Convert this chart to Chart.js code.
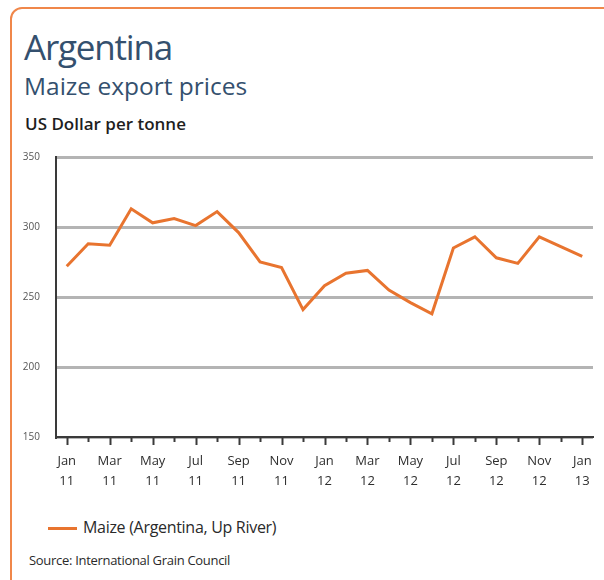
<!DOCTYPE html>
<html>
<head>
<meta charset="utf-8">
<script src="https://cdn.jsdelivr.net/npm/chart.js@4"></script>
<style>
  body { margin: 0; background: #fff; width: 604px; height: 580px; overflow: hidden; position: relative; font-family: "Open Sans", sans-serif; }
  #frame { position: absolute; left: 10px; top: 7px; width: 640px; height: 620px; border: 2.5px solid #f0874a; border-radius: 12px; box-sizing: border-box; }
  .txt { position: absolute; white-space: nowrap; }
  #title { left: 24px; top: 23px; font-size: 35px; letter-spacing: -1.2px; color: #34506e; }
  #subtitle { left: 24px; top: 69px; font-size: 24.5px; letter-spacing: 0px; color: #34506e; }
  #unit { left: 25px; top: 112px; font-size: 17px; font-weight: 600; letter-spacing: 0px; color: #1e1e1e; }
  #legend { left: 48px; top: 516px; font-size: 16px; letter-spacing: -0.3px; color: #2a2a2a; }
  #legend span.ln { display: inline-block; width: 29px; height: 3px; background: #e8742f; vertical-align: middle; margin-right: 6px; position: relative; top: 0px; }
  #source { left: 29px; top: 551px; font-size: 13px; letter-spacing: -0.3px; color: #2a2a2a; }
  #wrap { position: absolute; left: 0; top: 140px; width: 604px; height: 360px; }
</style>
</head>
<body>
<div id="frame"></div>
<div class="txt" id="title">Argentina</div>
<div class="txt" id="subtitle">Maize export prices</div>
<div class="txt" id="unit">US Dollar per tonne</div>
<div id="wrap"><canvas id="chart"></canvas></div>
<div class="txt" id="legend"><span class="ln"></span>Maize (Argentina, Up River)</div>
<div class="txt" id="source">Source: International Grain Council</div>
<script>
const months = ['Jan','Feb','Mar','Apr','May','Jun','Jul','Aug','Sep','Oct','Nov','Dec',
                'Jan','Feb','Mar','Apr','May','Jun','Jul','Aug','Sep','Oct','Nov','Dec','Jan']
const years = ['11','11','11','11','11','11','11','11','11','11','11','11',
               '12','12','12','12','12','12','12','12','12','12','12','12','13']
const maize = [272, 288, 287, 313, 303, 306, 301, 311, 296, 275, 271, 241,
               258, 267, 269, 255, 246, 238, 285, 293, 278, 274, 293, 286, 279]
const yTicks = [150, 200, 250, 300, 350]

// small/large tick marks under the x axis
const monthTicks = {
    id: 'monthTicks',
    afterDraw(chart) {
        const x = chart.scales.x
        const ctx = chart.ctx
        ctx.save()
        ctx.strokeStyle = '#3a3a3a'
        ctx.lineWidth = 2
        for (let i = 0; i < months.length; i++) {
            const px = Math.round(x.getPixelForValue(i)) + 0.5
            const len = i % 2 == 0 ? 8 : 5
            ctx.beginPath()
            ctx.moveTo(px, x.top)
            ctx.lineTo(px, x.top + len)
            ctx.stroke()
        }
        ctx.restore()
    }
}

const data = {
    labels: months.map((m, i) => i),
    datasets: [{
        label: 'Maize (Argentina, Up River)',
        data: maize,
        borderColor: '#e8742f',
        borderWidth: 3,
        tension: 0,
        pointRadius: 0,
        fill: false
    }]
}

const options = {
    responsive: true,
    maintainAspectRatio: false,
    animation: false,
    layout: { padding: { top: 17, right: 11, left: 0, bottom: 0 } },
    plugins: { legend: { display: false }, tooltip: { enabled: false } },
    scales: {
        x: {
            type: 'category',
            offset: true,
            afterFit: s => { s.height = 63; s.paddingLeft = 0; s.paddingRight = 0 },
            grid: { drawOnChartArea: false, drawTicks: false },
            border: { color: '#3a3a3a', width: 2 },
            ticks: {
                autoSkip: false,
                maxRotation: 0,
                padding: 15,
                color: '#2e2e2e',
                font: { family: 'Open Sans', size: 13, lineHeight: 1.5 },
                callback: (v, i) => i % 2 == 0 ? [months[i], years[i]] : ''
            }
        },
        y: {
            min: 150,
            max: 350,
            afterFit: s => { s.width = 56; s.paddingTop = 0; s.paddingBottom = 0 },
            afterBuildTicks: s => { s.ticks = yTicks.map(v => ({ value: v })) },
            grid: { color: '#b4b4b4', lineWidth: 3, drawTicks: false },
            border: { color: '#3a3a3a', width: 2 },
            ticks: {
                padding: 16,
                color: '#555',
                font: { family: 'Open Sans', size: 10 }
            }
        }
    }
}

new Chart('chart', { type: 'line', data, options, plugins: [monthTicks] })
</script>
</body>
</html>
